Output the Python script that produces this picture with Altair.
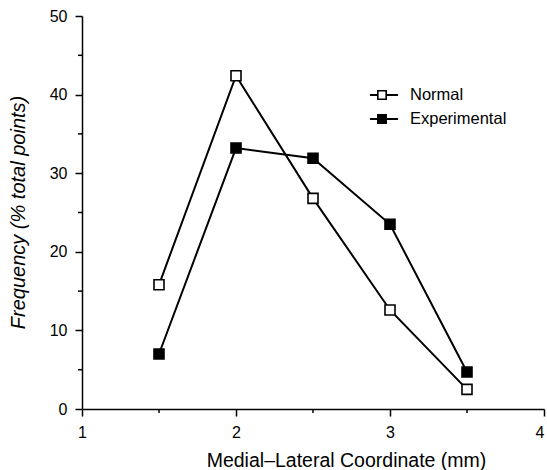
import altair as alt
import pandas as pd

# Data
x_vals = [1.5, 2.0, 2.5, 3.0, 3.5]
normal = [15.8, 42.4, 26.8, 12.6, 2.5]
experimental = [7.0, 33.2, 31.9, 23.5, 4.7]
series_names = ["Normal", "Experimental"]
x_ticks = [1, 2, 3, 4]
y_ticks = [0, 10, 20, 30, 40, 50]
x_minor = [1.5, 2.5, 3.5]
y_minor = [5, 15, 25, 35, 45]

rows = []
for xv, n, e in zip(x_vals, normal, experimental):
    rows.append({"x": xv, "y": n, "series": "Normal"})
    rows.append({"x": xv, "y": e, "series": "Experimental"})
df = pd.DataFrame(rows)

FONT = "Liberation Sans"
W, H = 462, 393

xscale = alt.Scale(domain=[1, 4], nice=False, zero=False)
yscale = alt.Scale(domain=[0, 50], nice=False)

x_axis = alt.Axis(values=x_ticks, format="d", title="Medial\u2013Lateral Coordinate (mm)",
                  grid=False, domainColor="black", domainWidth=1.5, tickColor="black",
                  tickWidth=1.5, tickSize=7, labelFontSize=16, labelColor="black",
                  labelFont=FONT, labelPadding=8, titleFont=FONT, titleFontSize=19.5,
                  titleFontWeight="normal", titleColor="black", titleX=264, titleY=57,
                  titleBaseline="alphabetic", titleAlign="center", labelFlush=False,
                  labelAlign=alt.expr("datum.value == 4 ? 'right' : 'center'"))
y_axis = alt.Axis(values=y_ticks, format="d", title="Frequency (% total points)",
                  grid=False, domainColor="black", domainWidth=1.5, tickColor="black",
                  tickWidth=1.5, tickSize=7, labelFontSize=16, labelColor="black",
                  labelFont=FONT, labelPadding=8, titleFont=FONT, titleFontSize=20,
                  titleFontWeight="normal", titleFontStyle="italic", titleColor="black",
                  titleX=-64, titleY=196, titleAngle=270, titleBaseline="middle",
                  titleAlign="center", labelFlush=False)

base = alt.Chart(df)
lines = base.mark_line(color="black", strokeWidth=2).encode(
    x=alt.X("x:Q", scale=xscale, axis=x_axis),
    y=alt.Y("y:Q", scale=yscale, axis=y_axis),
    detail="series:N",
)
points = base.mark_square(size=100, stroke="black", strokeWidth=1.6, opacity=1).encode(
    x=alt.X("x:Q", scale=xscale, axis=x_axis),
    y=alt.Y("y:Q", scale=yscale, axis=y_axis),
    fill=alt.Fill("series:N", scale=alt.Scale(domain=series_names, range=["white", "black"]), legend=None),
)

ymin_df = pd.DataFrame({"y": y_minor})
xmin_df = pd.DataFrame({"x": x_minor})
y_minor_ticks = alt.Chart(ymin_df).mark_rule(color="black", strokeWidth=1.5).encode(
    y=alt.Y("y:Q", scale=yscale, axis=y_axis),
    x=alt.value(-4), x2=alt.value(0),
)
x_minor_ticks = alt.Chart(xmin_df).mark_rule(color="black", strokeWidth=1.5).encode(
    x=alt.X("x:Q", scale=xscale, axis=x_axis),
    y=alt.value(H), y2=alt.value(H + 4),
)

# Manual legend (line + square marker + label)
legend_layers = []
for i, name in enumerate(series_names):
    ld = alt.Data(values=[{"label": name}])
    ypos = 79 + i * 24
    legend_layers.append(alt.Chart(ld).mark_rule(color="black", strokeWidth=2).encode(
        x=alt.value(288), x2=alt.value(316), y=alt.value(ypos)))
    legend_layers.append(alt.Chart(ld).mark_square(
        size=70, stroke="black", strokeWidth=1.6, opacity=1,
        fill="white" if name == "Normal" else "black").encode(
        x=alt.value(300), y=alt.value(ypos)))
    legend_layers.append(alt.Chart(ld).mark_text(
        align="left", baseline="middle", font=FONT, fontSize=16.5, color="black").encode(
        x=alt.value(328), y=alt.value(ypos), text="label:N"))

chart = alt.layer(lines, points, y_minor_ticks, x_minor_ticks, *legend_layers).properties(
    width=W, height=H,
    autosize=alt.AutoSizeParams(type="none"),
    padding={"left": 82, "top": 16, "right": 3, "bottom": 61},
    background="white",
).configure_view(stroke=None)

chart.save("out.html", embed_options={"renderer": "svg", "actions": False})
